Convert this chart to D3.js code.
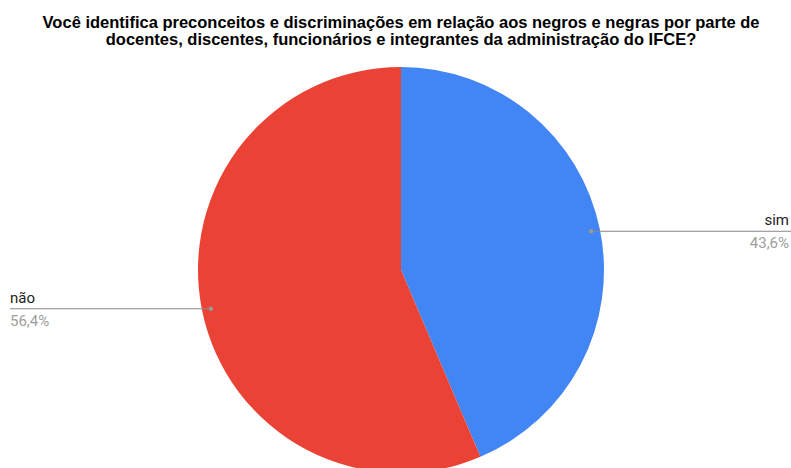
<!DOCTYPE html>
<html><head><meta charset="utf-8">
<script src="https://cdn.jsdelivr.net/npm/d3@7"></script>
<style>body{margin:0;background:#fff}svg{display:block}</style>
</head><body>
<svg id="c" width="791" height="468"></svg>
<script>
const titleLines = ["Você identifica preconceitos e discriminações em relação aos negros e negras por parte de",
                    "docentes, discentes, funcionários e integrantes da administração do IFCE?"];
const categories = ["sim", "não"];
const values = [43.6, 56.4];
const colors = ["#4285F4", "#EA4335"];

const svg = d3.select("#c");
const W = 791, H = 468;
const cx = 401, cy = 270, R = 203;

const pie = d3.pie().sort(null).value(d=>d)(values);
const arc = d3.arc().innerRadius(0).outerRadius(R);
const g = svg.append("g").attr("transform",`translate(${cx},${cy})`);
g.selectAll("path").data(pie).join("path")
  .attr("d", arc).attr("fill",(d,i)=>colors[i]);

svg.append("g").selectAll("text").data(titleLines).join("text")
  .attr("x", 401).attr("y", (d,i)=>28 + i*17)
  .attr("text-anchor","middle")
  .attr("font-family","Liberation Sans, Arial, sans-serif")
  .attr("font-weight","bold").attr("font-size",16.5).attr("fill","#000")
  .text(d=>d);

const fmt = v => d3.format(".1f")(v).replace(".", ",") + "%";
const anchorR = 194;
pie.forEach((d,i)=>{
  const a = (d.startAngle + d.endAngle)/2;
  const px = cx + anchorR*Math.sin(a), py = cy - anchorR*Math.cos(a);
  const right = Math.sin(a) > 0;
  const x2 = right ? 791 : 10;
  svg.append("line").attr("x1",px).attr("y1",py).attr("x2",x2).attr("y2",py)
    .attr("stroke","#888").attr("stroke-width",1);
  svg.append("circle").attr("cx",px).attr("cy",py).attr("r",2.2).attr("fill","#999");
  const tx = right ? 789 : 10;
  const anchor = right ? "end" : "start";
  svg.append("text").attr("x",tx).attr("y",py-6).attr("text-anchor",anchor)
    .attr("font-family","Roboto, Arial, sans-serif").attr("font-size",15).attr("fill","#222")
    .text(categories[i]);
  svg.append("text").attr("x",tx).attr("y",py+17).attr("text-anchor",anchor)
    .attr("font-family","Roboto, Arial, sans-serif").attr("font-size",15).attr("fill","#9e9e9e")
    .text(fmt(values[i]));
});
</script>
</body></html>
